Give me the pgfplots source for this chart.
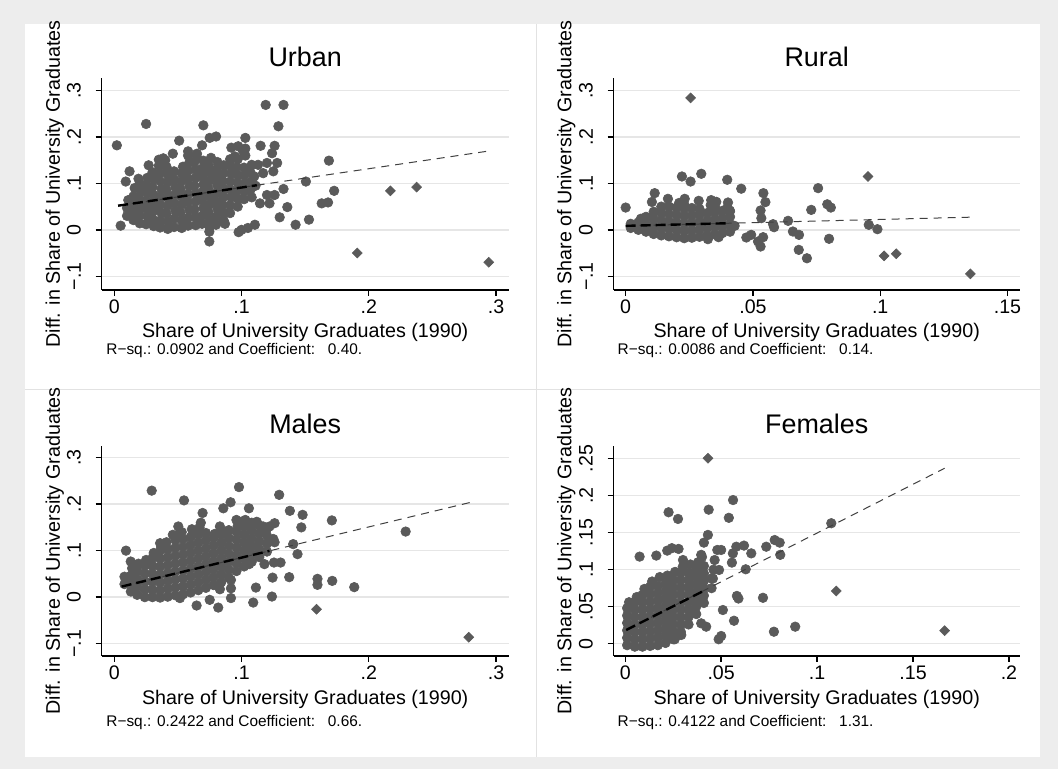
\documentclass[border=0pt]{standalone}
\usepackage{fontspec}
\setmainfont{Liberation Sans}
\usepackage{pgfplots}
\pgfplotsset{compat=1.18}
\definecolor{bgc}{HTML}{EDEDED}
\definecolor{dotc}{HTML}{5A5A5A}
\definecolor{gridc}{HTML}{E6E6E6}
\definecolor{divc}{HTML}{E2E2E2}
\tikzset{notefont/.style={font=\fontsize{7.7}{9}\selectfont}}
\pgfplotsset{
 stata/.style={
  scale only axis, clip=false, clip marker paths=true,
  axis lines*=left,
  axis line style={-, black, line width=0.7pt},
  tick align=outside,
  major tick length=3pt,
  every tick/.style={black, line width=0.7pt},
  ymajorgrids, grid style={line width=0.75pt, color=gridc},
  tick label style={font=\fontsize{9.8}{11}\selectfont},
  /pgf/number format/assume math mode=true,
  xticklabel style={anchor=north, inner xsep=0pt, inner ysep=1.9pt},
  yticklabel style={rotate=90, anchor=south, inner xsep=0pt, inner ysep=7.2pt},
  every axis title shift=0pt,
  title style={font=\fontsize{13.45}{16}\selectfont, anchor=base, inner sep=0pt},
  xlabel style={font=\fontsize{9.85}{12}\selectfont, anchor=base, inner sep=0pt},
  ylabel style={font=\fontsize{9.85}{12}\selectfont, anchor=base, inner sep=0pt},
  xlabel={Share of University Graduates (1990)},
  ylabel={Diff. in Share of University Graduates},
 },
 dots/.style={only marks, color=dotc, mark=*, mark size=2.4pt, mark options={draw=dotc, fill=dotc, line width=0.3pt}},
 diam/.style={only marks, color=dotc, mark=square*, mark size=1.75pt, mark options={rotate=45, draw=dotc, fill=dotc, line width=0.3pt}},
 fitthick/.style={black, line width=1.2pt, dash pattern=on 5pt off 2.5pt},
 fitthin/.style={black!75, line width=0.5pt, dash pattern=on 4pt off 3pt},
}
\begin{document}
\begin{tikzpicture}
\fill[bgc] (0,0) rectangle (529pt,384.5pt);
\fill[white] (12.5pt,6pt) rectangle (520pt,372.5pt);
\draw[divc, line width=0.5pt] (268pt,6pt) -- (268pt,372.5pt);
\draw[divc, line width=0.5pt] (12.5pt,189.75pt) -- (520pt,189.75pt);

% ---------------- Urban ----------------
\begin{axis}[stata, at={(50.85pt,239.5pt)}, anchor=south west,
  width=203.5pt, height=106pt,
  xmin=-0.0099, xmax=0.310, ymin=-0.1295, ymax=0.327,
  xtick={0,0.1,0.2,0.3}, xticklabels={0,.1,.2,.3},
  ytick={-0.1,0,0.1,0.2,0.3}, yticklabels={−.1,0,.1,.2,.3},
  title={Urban},
  title style={at={(axis description cs:0.5,1.053)}},
  xlabel style={at={(axis description cs:0.5,-0.225)}},
  ylabel style={at={(axis description cs:-0.1025,0.5)}},
  extra description/.code={\node[notefont, anchor=base west, inner sep=0pt] at (0.0106,-0.303) {R−sq.: 0.0902 and Coefficient:\hspace{0.83em}0.40.};},
]
\addplot[dots] coordinates {
(0.010,0.030)(0.010,0.047)(0.011,0.064)
(0.015,0.021)(0.015,0.038)(0.016,0.055)(0.015,0.072)(0.016,0.090)
(0.020,0.014)(0.020,0.031)(0.021,0.048)(0.020,0.065)(0.021,0.082)(0.020,0.099)(0.019,0.110)
(0.025,0.012)(0.026,0.029)(0.025,0.046)(0.025,0.063)(0.026,0.080)(0.025,0.097)(0.026,0.112)
(0.031,0.008)(0.030,0.024)(0.031,0.041)(0.030,0.058)(0.031,0.075)(0.030,0.092)(0.031,0.109)(0.030,0.124)
(0.036,0.005)(0.036,0.020)(0.037,0.037)(0.036,0.054)(0.036,0.071)(0.037,0.088)(0.036,0.105)(0.036,0.122)(0.035,0.138)
(0.042,0.002)(0.042,0.018)(0.041,0.035)(0.042,0.052)(0.042,0.069)(0.041,0.086)(0.042,0.103)(0.042,0.120)(0.041,0.136)(0.040,0.150)
(0.047,0.006)(0.047,0.024)(0.048,0.041)(0.047,0.058)(0.047,0.075)(0.048,0.092)(0.047,0.109)(0.047,0.126)
(0.053,0.004)(0.053,0.020)(0.052,0.037)(0.053,0.054)(0.053,0.071)(0.052,0.088)(0.053,0.105)(0.053,0.122)(0.054,0.136)
(0.058,0.009)(0.058,0.026)(0.059,0.043)(0.058,0.060)(0.058,0.077)(0.059,0.094)(0.058,0.111)(0.058,0.128)(0.059,0.145)(0.058,0.160)
(0.064,0.010)(0.064,0.027)(0.063,0.044)(0.064,0.061)(0.064,0.078)(0.063,0.095)(0.064,0.112)(0.064,0.129)(0.063,0.146)(0.065,0.164)
(0.069,0.013)(0.069,0.030)(0.070,0.047)(0.069,0.064)(0.069,0.081)(0.070,0.098)(0.069,0.115)(0.069,0.132)(0.070,0.149)
(0.075,0.005)(0.075,0.021)(0.074,0.038)(0.075,0.055)(0.075,0.072)(0.074,0.089)(0.075,0.106)(0.075,0.123)(0.074,0.140)(0.076,0.155)
(0.080,0.011)(0.080,0.028)(0.081,0.045)(0.080,0.062)(0.080,0.079)(0.081,0.096)(0.080,0.113)(0.080,0.130)(0.081,0.146)
(0.086,0.020)(0.086,0.037)(0.085,0.054)(0.086,0.071)(0.086,0.088)(0.085,0.105)(0.086,0.122)(0.086,0.139)
(0.091,0.036)(0.091,0.053)(0.092,0.070)(0.091,0.087)(0.091,0.104)(0.092,0.121)(0.091,0.138)(0.091,0.152)
(0.097,0.050)(0.097,0.067)(0.096,0.084)(0.097,0.101)(0.097,0.118)(0.096,0.135)(0.097,0.152)
(0.102,0.066)(0.102,0.083)(0.103,0.100)(0.102,0.117)(0.102,0.134)(0.103,0.160)
(0.107,0.086)(0.108,0.105)(0.107,0.124)(0.108,0.140)
(0.002,0.182)(0.025,0.228)(0.005,0.009)(0.009,0.104)(0.012,0.126)(0.027,0.139)(0.046,0.164)(0.051,0.192)
(0.070,0.225)(0.069,0.182)(0.075,0.198)(0.080,0.201)(0.092,0.177)(0.103,0.198)(0.103,0.175)(0.115,0.181)
(0.119,0.269)(0.133,0.269)(0.129,0.223)(0.126,0.181)(0.124,0.165)(0.120,0.144)(0.128,0.144)(0.125,0.126)
(0.117,0.122)(0.110,0.115)(0.111,0.095)(0.108,0.070)(0.113,0.140)(0.133,0.088)(0.136,0.049)(0.130,0.027)
(0.1425,0.011)(0.153,0.022)(0.1506,0.104)(0.1687,0.149)(0.1728,0.084)(0.163,0.057)(0.168,0.059)
(0.120,0.075)(0.1145,0.057)(0.126,0.075)(0.122,0.057)(0.1105,0.011)(0.105,0.004)(0.0977,-0.005)
(0.0747,-0.025)(0.0747,-0.004)(0.087,0.013)(0.100,0.000)
(0.035,0.151)(0.0385,0.154)(0.058,0.169)(0.0647,0.158)(0.0974,0.180)(0.1013,0.169)(0.0948,0.158)
};
\addplot[diam] coordinates {(0.191,-0.050)(0.217,0.084)(0.2376,0.092)(0.2943,-0.0697)};
\addplot[fitthin] coordinates {(0.003,0.052)(0.295,0.170)};
\addplot[fitthick] coordinates {(0.003,0.052)(0.112,0.096)};
\end{axis}

% ---------------- Rural ----------------
\begin{axis}[stata, at={(306.85pt,239.5pt)}, anchor=south west,
  width=203pt, height=106pt,
  xmin=-0.0047, xmax=0.1548, ymin=-0.1295, ymax=0.327,
  xtick={0,0.05,0.1,0.15}, xticklabels={0,.05,.1,.15},
  ytick={-0.1,0,0.1,0.2,0.3}, yticklabels={−.1,0,.1,.2,.3},
  title={Rural},
  title style={at={(axis description cs:0.5,1.053)}},
  xlabel style={at={(axis description cs:0.5,-0.225)}},
  ylabel style={at={(axis description cs:-0.1044,0.5)}},
  extra description/.code={\node[notefont, anchor=base west, inner sep=0pt] at (0.0089,-0.303) {R−sq.: 0.0086 and Coefficient:\hspace{0.83em}0.14.};},
]
\addplot[dots] coordinates {
(0.002,0.004)(0.002,0.013)
(0.005,0.000)(0.005,0.016)(0.006,0.024)
(0.008,-0.004)(0.008,0.012)(0.008,0.028)
(0.011,-0.009)(0.011,0.007)(0.011,0.023)(0.011,0.039)
(0.014,-0.012)(0.014,0.004)(0.014,0.020)(0.014,0.036)(0.014,0.050)
(0.017,-0.014)(0.017,0.002)(0.017,0.018)(0.017,0.034)(0.017,0.050)
(0.020,-0.016)(0.020,0.000)(0.020,0.016)(0.020,0.032)(0.020,0.048)(0.021,0.058)
(0.023,-0.018)(0.023,-0.002)(0.023,0.014)(0.023,0.030)(0.023,0.046)(0.023,0.055)
(0.026,-0.017)(0.026,-0.001)(0.026,0.015)(0.026,0.031)(0.026,0.047)
(0.029,-0.015)(0.029,0.001)(0.029,0.017)(0.029,0.033)(0.029,0.045)
(0.032,-0.012)(0.032,0.004)(0.032,0.020)(0.032,0.036)
(0.035,-0.010)(0.035,0.006)(0.035,0.022)(0.035,0.038)(0.035,0.050)
(0.038,-0.007)(0.038,0.009)(0.038,0.025)(0.038,0.041)
(0.041,-0.004)(0.041,0.012)(0.041,0.028)(0.041,0.040)
(0.000,0.048)(0.0114,0.079)(0.0103,0.060)(0.0166,0.0668)(0.0232,0.0668)(0.0221,0.1149)(0.0255,0.104)
(0.0297,0.1207)(0.0287,0.0625)(0.0336,0.064)(0.0334,0.0532)(0.0356,0.0603)(0.0399,0.1078)
(0.0402,0.0589)(0.0399,0.0474)(0.0409,0.0417)(0.0454,0.0886)(0.0541,0.079)(0.0549,0.0597)
(0.053,0.0417)(0.0533,0.0251)(0.0579,0.0122)(0.0583,0.0057)(0.054,-0.0158)(0.053,-0.0359)(0.052,-0.0251)
(0.0474,-0.0165)(0.0493,-0.0108)(0.0638,0.0194)(0.0657,-0.0036)(0.0681,-0.0108)(0.068,-0.0431)
(0.0712,-0.0612)(0.0729,0.043)(0.0756,0.0898)(0.0792,0.055)(0.0806,0.048)(0.0799,-0.0193)
(0.0955,0.0108)(0.0989,0.0014)(0.0323,-0.0201)(0.0365,-0.0158)(0.0428,0.0086)
};
\addplot[diam] coordinates {(0.0255,0.284)(0.0952,0.115)(0.1015,-0.056)(0.1063,-0.0517)(0.1354,-0.0948)};
\addplot[fitthin] coordinates {(0.0,0.0086)(0.1358,0.0273)};
\addplot[fitthick] coordinates {(0.0,0.0086)(0.040,0.0142)};
\end{axis}

% ---------------- Males ----------------
\begin{axis}[stata, at={(50.85pt,56.5pt)}, anchor=south west,
  width=203.5pt, height=105pt,
  xmin=-0.0099, xmax=0.310, ymin=-0.1265, ymax=0.325,
  xtick={0,0.1,0.2,0.3}, xticklabels={0,.1,.2,.3},
  ytick={-0.1,0,0.1,0.2,0.3}, yticklabels={−.1,0,.1,.2,.3},
  title={Males},
  title style={at={(axis description cs:0.5,1.06)}},
  xlabel style={at={(axis description cs:0.5,-0.2286)}},
  ylabel style={at={(axis description cs:-0.1025,0.5)}},
  extra description/.code={\node[notefont, anchor=base west, inner sep=0pt] at (0.0106,-0.338) {R−sq.: 0.2422 and Coefficient:\hspace{0.83em}0.66.};},
]
\addplot[dots] coordinates {
(0.008,0.028)(0.008,0.044)
(0.013,0.012)(0.013,0.029)(0.013,0.046)(0.014,0.062)
(0.018,0.005)(0.018,0.022)(0.018,0.039)(0.018,0.056)(0.019,0.072)
(0.024,0.000)(0.024,0.017)(0.024,0.034)(0.024,0.051)(0.024,0.068)(0.025,0.080)
(0.030,0.000)(0.030,0.016)(0.030,0.033)(0.030,0.050)(0.030,0.067)(0.030,0.084)(0.031,0.095)
(0.036,-0.001)(0.036,0.015)(0.036,0.032)(0.036,0.049)(0.036,0.066)(0.036,0.083)(0.036,0.100)(0.037,0.110)
(0.042,0.001)(0.042,0.018)(0.042,0.035)(0.042,0.052)(0.042,0.069)(0.042,0.086)(0.042,0.103)(0.041,0.118)
(0.048,0.004)(0.048,0.021)(0.048,0.038)(0.048,0.055)(0.048,0.072)(0.048,0.089)(0.048,0.106)(0.048,0.123)(0.049,0.133)
(0.054,0.006)(0.054,0.023)(0.054,0.040)(0.054,0.057)(0.054,0.074)(0.054,0.091)(0.054,0.108)(0.054,0.125)(0.053,0.140)
(0.060,0.010)(0.060,0.027)(0.060,0.044)(0.060,0.061)(0.060,0.078)(0.060,0.095)(0.060,0.112)(0.060,0.129)(0.061,0.146)
(0.066,0.015)(0.066,0.032)(0.066,0.049)(0.066,0.066)(0.066,0.083)(0.066,0.100)(0.066,0.117)(0.066,0.134)(0.067,0.150)
(0.072,0.020)(0.072,0.037)(0.072,0.054)(0.072,0.071)(0.072,0.088)(0.072,0.105)(0.072,0.122)(0.072,0.138)
(0.078,0.026)(0.078,0.043)(0.078,0.060)(0.078,0.077)(0.078,0.094)(0.078,0.111)(0.078,0.128)(0.079,0.136)
(0.084,0.032)(0.084,0.049)(0.084,0.066)(0.084,0.083)(0.084,0.100)(0.084,0.117)(0.084,0.134)(0.085,0.142)
(0.090,0.042)(0.090,0.059)(0.090,0.076)(0.090,0.093)(0.090,0.110)(0.090,0.127)(0.090,0.144)
(0.096,0.056)(0.096,0.073)(0.096,0.090)(0.096,0.107)(0.096,0.124)(0.096,0.141)(0.097,0.153)
(0.102,0.066)(0.102,0.083)(0.102,0.100)(0.102,0.117)(0.102,0.134)(0.102,0.151)(0.101,0.163)
(0.108,0.076)(0.108,0.093)(0.108,0.110)(0.108,0.127)(0.108,0.144)(0.108,0.160)
(0.114,0.086)(0.114,0.103)(0.114,0.120)(0.114,0.137)(0.114,0.154)
(0.120,0.098)(0.120,0.115)(0.120,0.132)(0.120,0.148)
(0.0092,0.100)(0.0129,0.0766)(0.0294,0.229)(0.0548,0.208)(0.0694,0.181)(0.068,0.160)(0.0857,0.191)
(0.0914,0.204)(0.098,0.2366)(0.1058,0.191)(0.1296,0.220)(0.138,0.1856)(0.148,0.177)(0.147,0.150)
(0.171,0.165)(0.229,0.141)(0.1406,0.114)(0.144,0.0925)(0.125,0.125)(0.126,0.118)(0.118,0.071)
(0.1255,0.0744)(0.1307,0.0744)(0.1244,0.042)(0.1375,0.043)(0.1597,0.0394)(0.1597,0.0265)(0.1713,0.035)
(0.1886,0.0215)(0.1239,0.0013)(0.1113,0.0206)(0.1092,-0.0116)(0.0917,-0.002)(0.0917,0.019)(0.0917,0.037)
(0.083,0.017)(0.0817,-0.0224)(0.075,-0.0058)(0.0647,-0.018)(0.0516,-0.002)(0.106,0.071)
(0.046,0.134)(0.0503,0.152)(0.036,0.116)(0.096,0.166)(0.103,0.166)(0.112,0.162)(0.117,0.152)
(0.083,0.152)(0.122,0.152)(0.126,0.159)
};
\addplot[diam] coordinates {(0.159,-0.026)(0.2786,-0.086)};
\addplot[fitthin] coordinates {(0.0058,0.0228)(0.2794,0.2034)};
\addplot[fitthick] coordinates {(0.0058,0.0228)(0.122,0.0995)};
\end{axis}

% ---------------- Females ----------------
\begin{axis}[stata, at={(306.85pt,56.5pt)}, anchor=south west,
  width=203pt, height=105pt,
  xmin=-0.006, xmax=0.2056, ymin=-0.0166, ymax=0.267,
  xtick={0,0.05,0.1,0.15,0.2}, xticklabels={0,.05,.1,.15,.2},
  ytick={0,0.05,0.1,0.15,0.2,0.25}, yticklabels={0,.05,.1,.15,.2,.25},
  title={Females},
  title style={at={(axis description cs:0.5,1.06)}},
  xlabel style={at={(axis description cs:0.5,-0.2286)}},
  ylabel style={at={(axis description cs:-0.1044,0.5)}},
  extra description/.code={\node[notefont, anchor=base west, inner sep=0pt] at (0.0089,-0.338) {R−sq.: 0.4122 and Coefficient:\hspace{0.83em}1.31.};},
]
\addplot[dots] coordinates {
(0.001,-0.002)(0.001,0.008)(0.001,0.018)(0.001,0.028)(0.001,0.038)(0.001,0.048)(0.002,0.056)
(0.005,-0.004)(0.005,0.006)(0.005,0.016)(0.005,0.026)(0.005,0.036)(0.005,0.046)(0.005,0.056)(0.006,0.063)
(0.009,-0.004)(0.009,0.006)(0.009,0.016)(0.009,0.026)(0.009,0.036)(0.009,0.046)(0.009,0.056)(0.009,0.066)(0.010,0.074)
(0.013,-0.003)(0.013,0.007)(0.013,0.017)(0.013,0.027)(0.013,0.037)(0.013,0.047)(0.013,0.057)(0.013,0.067)(0.013,0.077)(0.014,0.084)
(0.017,-0.002)(0.017,0.008)(0.017,0.018)(0.017,0.028)(0.017,0.038)(0.017,0.048)(0.017,0.058)(0.017,0.068)(0.017,0.078)(0.018,0.090)
(0.021,0.001)(0.021,0.011)(0.021,0.021)(0.021,0.031)(0.021,0.041)(0.021,0.051)(0.021,0.061)(0.021,0.071)(0.021,0.081)(0.022,0.092)
(0.025,0.006)(0.025,0.016)(0.025,0.026)(0.025,0.036)(0.025,0.046)(0.025,0.056)(0.025,0.066)(0.025,0.076)(0.025,0.086)(0.026,0.097)
(0.029,0.016)(0.029,0.026)(0.029,0.036)(0.029,0.046)(0.029,0.056)(0.029,0.066)(0.029,0.076)(0.029,0.086)(0.029,0.096)(0.030,0.104)
(0.033,0.026)(0.033,0.036)(0.033,0.046)(0.033,0.056)(0.033,0.066)(0.033,0.076)(0.033,0.086)(0.033,0.096)(0.034,0.107)
(0.037,0.040)(0.037,0.050)(0.037,0.060)(0.037,0.070)(0.037,0.080)(0.037,0.090)(0.037,0.100)(0.038,0.110)
(0.041,0.055)(0.041,0.065)(0.041,0.075)(0.041,0.085)(0.041,0.095)(0.041,0.105)(0.040,0.117)
(0.045,0.075)(0.045,0.088)(0.046,0.100)
(0.0562,0.194)(0.0435,0.181)(0.0226,0.1775)(0.0275,0.1685)(0.054,0.170)(0.1074,0.1627)(0.0431,0.1469)
(0.041,0.1365)(0.0075,0.1176)(0.0162,0.119)(0.0219,0.1257)(0.0243,0.129)(0.0278,0.128)(0.0301,0.113)
(0.0396,0.120)(0.048,0.1266)(0.050,0.1266)(0.0466,0.113)(0.0579,0.131)(0.0619,0.1325)(0.0657,0.122)
(0.0735,0.131)(0.0779,0.140)(0.0805,0.1365)(0.0808,0.120)(0.0561,0.122)(0.0556,0.1095)(0.0489,0.0996)
(0.0457,0.088)(0.0628,0.1005)(0.0582,0.0645)(0.059,0.061)(0.0718,0.062)(0.0509,0.0455)(0.0396,0.0275)
(0.0422,0.023)(0.0567,0.031)(0.0775,0.0162)(0.0886,0.023)(0.0487,0.006)(0.050,0.0104)(0.0258,0.006)(0.0292,0.0118)
};
\addplot[diam] coordinates {(0.0431,0.2505)(0.110,0.0712)(0.1665,0.0176)};
\addplot[fitthin] coordinates {(0.0005,0.0185)(0.1665,0.237)};
\addplot[fitthick] coordinates {(0.0005,0.0185)(0.040,0.0702)};
\end{axis}
\pgfresetboundingbox
\path[use as bounding box] (0,0) rectangle (529pt,384.5pt);
\end{tikzpicture}
\end{document}
